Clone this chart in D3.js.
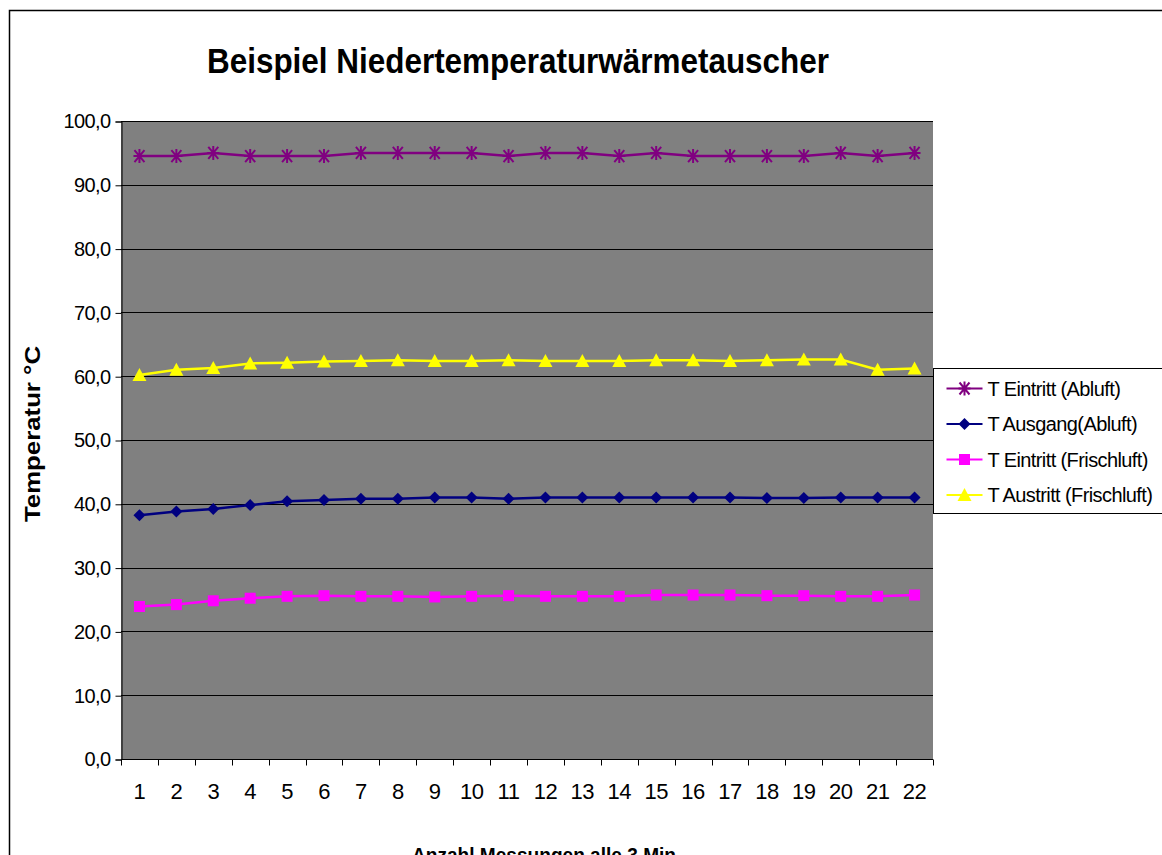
<!DOCTYPE html>
<html>
<head>
	<meta charset="utf-8">
	<title>Beispiel Niedertemperaturwärmetauscher</title>
	<script src="https://d3js.org/d3.v7.min.js"></script>
	<style>
		body { margin: 0; background: #fff; }
		text { font-family: 'Liberation Sans', Arial, sans-serif; }
	</style>
</head>
<body>
	<div class="chart"></div>

	<script type="text/javascript">

		// Messungen 1..22
		var categories = d3.range(1, 23)

		var seriesNames = [
			'T Eintritt (Abluft)',
			'T Ausgang(Abluft)',
			'T Eintritt (Frischluft)',
			'T Austritt (Frischluft)'
		]

		var eintrittAbluft = [94.5, 94.5, 95.0, 94.5, 94.5, 94.5, 95.0, 95.0, 95.0, 95.0, 94.5,
			95.0, 95.0, 94.5, 95.0, 94.5, 94.5, 94.5, 94.5, 95.0, 94.5, 95.0]
		var ausgangAbluft = [38.2, 38.8, 39.2, 39.8, 40.4, 40.6, 40.8, 40.8, 41.0, 41.0, 40.8,
			41.0, 41.0, 41.0, 41.0, 41.0, 41.0, 40.9, 40.9, 41.0, 41.0, 41.0]
		var eintrittFrischluft = [23.9, 24.2, 24.8, 25.2, 25.5, 25.6, 25.5, 25.5, 25.4, 25.5, 25.6,
			25.5, 25.5, 25.5, 25.7, 25.7, 25.7, 25.6, 25.6, 25.5, 25.5, 25.7]
		var austrittFrischluft = [60.2, 61.0, 61.3, 62.0, 62.1, 62.3, 62.4, 62.5, 62.4, 62.4, 62.5,
			62.4, 62.4, 62.4, 62.5, 62.5, 62.4, 62.5, 62.6, 62.6, 61.0, 61.2]

		var yTicks = [0, 10, 20, 30, 40, 50, 60, 70, 80, 90, 100]

		var width = 1162
		var height = 855

		var svg = d3
			.select('.chart')
			.append('svg')
			.attr('width', width)
			.attr('height', height)

		// Rahmen des Diagrammbereichs
		svg.append('path')
			.attr('d', 'M9.5,' + (height + 5) + 'V10.5H' + (width + 5))
			.attr('fill', 'none')
			.attr('stroke', '#000')
			.attr('stroke-width', 1.5)

		var plot = { left: 121, right: 933, top: 121, bottom: 759 }

		var x = d3.scaleBand()
			.domain(categories)
			.range([plot.left, plot.right])

		var y = d3.scaleLinear()
			.domain([0, 100])
			.range([plot.bottom, plot.top])

		// grauer Hintergrund
		svg.append('rect')
			.attr('x', plot.left)
			.attr('y', plot.top)
			.attr('width', plot.right - plot.left)
			.attr('height', plot.bottom - plot.top)
			.attr('fill', '#808080')

		// Gitterlinien
		svg.append('g')
			.selectAll('line')
			.data(yTicks.slice(1))
			.enter()
			.append('line')
			.attr('x1', plot.left)
			.attr('x2', plot.right)
			.attr('y1', (d) => Math.round(y(d)) + 0.5)
			.attr('y2', (d) => Math.round(y(d)) + 0.5)
			.attr('stroke', '#000')
			.attr('stroke-width', 1)

		// Y-Achse
		var fmt = (d) => d3.format('.1f')(d).replace('.', ',')
		var yAxis = svg.append('g')
			.attr('transform', 'translate(' + (plot.left + 0.5) + ',0.5)')
			.call(d3.axisLeft(y).tickValues(yTicks).tickFormat(fmt).tickSize(6).tickPadding(5))
		yAxis.select('.domain').attr('stroke', '#000')
		yAxis.selectAll('text')
			.attr('fill', '#000')
			.attr('font-family', null)
			.attr('font-size', null)
			.style('font-size', '20px')
			.style('letter-spacing', '-0.6px')
		yAxis.attr('font-size', null).attr('font-family', null)

		// X-Achse
		var xAxis = svg.append('g')
			.attr('transform', 'translate(0,' + (plot.bottom + 0.5) + ')')
		xAxis.append('line')
			.attr('x1', plot.left)
			.attr('x2', plot.right)
			.attr('stroke', '#000')
		xAxis.selectAll('line.tick')
			.data(categories.concat([null]))
			.enter()
			.append('line')
			.attr('class', 'tick')
			.attr('x1', (d) => Math.round(d === null ? plot.right : x(d)) + 0.5)
			.attr('x2', (d) => Math.round(d === null ? plot.right : x(d)) + 0.5)
			.attr('y1', 0)
			.attr('y2', 6)
			.attr('stroke', '#000')
		xAxis.selectAll('text')
			.data(categories)
			.enter()
			.append('text')
			.attr('x', (d) => x(d) + x.bandwidth() / 2)
			.attr('y', 39)
			.attr('text-anchor', 'middle')
			.style('font-size', '22px')
			.style('letter-spacing', '-0.5px')
			.text((d) => d)

		// Linien und Marker
		var series = [
			{ name: seriesNames[0], values: eintrittAbluft, color: '#800080', marker: 'star' },
			{ name: seriesNames[1], values: ausgangAbluft, color: '#000080', marker: 'diamond' },
			{ name: seriesNames[2], values: eintrittFrischluft, color: '#ff00ff', marker: 'square' },
			{ name: seriesNames[3], values: austrittFrischluft, color: '#ffff00', marker: 'triangle' }
		]

		var line = d3.line()
			.x((d, i) => x(categories[i]) + x.bandwidth() / 2)
			.y((d) => y(d))

		function drawMarker(g, type, color) {
			if (type === 'star') {
				g.append('path')
					.attr('d', 'M-6,0H6M0,-7V7M-5,-6L5,6M-5,6L5,-6')
					.attr('stroke', color)
					.attr('stroke-width', 2)
					.attr('fill', 'none')
			} else if (type === 'diamond') {
				g.append('path')
					.attr('d', 'M0,-6L6,0L0,6L-6,0Z')
					.attr('fill', color)
			} else if (type === 'square') {
				g.append('rect')
					.attr('x', -5.5)
					.attr('y', -5.5)
					.attr('width', 11)
					.attr('height', 11)
					.attr('fill', color)
			} else {
				g.append('path')
					.attr('d', 'M0,-7L7,6H-7Z')
					.attr('fill', color)
			}
		}

		series.forEach(function (s) {
			svg.append('path')
				.attr('d', line(s.values))
				.attr('fill', 'none')
				.attr('stroke', s.color)
				.attr('stroke-width', 2.5)

			svg.append('g')
				.selectAll('g')
				.data(s.values)
				.enter()
				.append('g')
				.attr('transform', (d, i) => 'translate(' + (x(categories[i]) + x.bandwidth() / 2) + ',' + y(d) + ')')
				.each(function () { drawMarker(d3.select(this), s.marker, s.color) })
		})

		// Titel
		svg.append('text')
			.attr('x', 518)
			.attr('y', 73)
			.attr('text-anchor', 'middle')
			.attr('textLength', 622)
			.attr('lengthAdjust', 'spacingAndGlyphs')
			.style('font-size', '35px')
			.style('font-weight', 'bold')
			.text('Beispiel Niedertemperaturwärmetauscher')

		// Achsentitel
		svg.append('text')
			.attr('transform', 'translate(40,' + 434 + ') rotate(-90)')
			.attr('text-anchor', 'middle')
			.attr('textLength', 176)
			.attr('lengthAdjust', 'spacingAndGlyphs')
			.style('font-size', '22px')
			.style('font-weight', 'bold')
			.text('Temperatur °C')

		svg.append('text')
			.attr('x', 544)
			.attr('y', 862)
			.attr('text-anchor', 'middle')
			.attr('textLength', 264)
			.attr('lengthAdjust', 'spacingAndGlyphs')
			.style('font-size', '20px')
			.style('font-weight', 'bold')
			.text('Anzahl Messungen alle 3 Min')

		// Legende
		var legend = svg.append('g').attr('transform', 'translate(933.5,368.5)')
		legend.append('rect')
			.attr('width', 240)
			.attr('height', 145)
			.attr('fill', '#fff')
			.attr('stroke', '#000')

		var items = legend.selectAll('g.item')
			.data(series)
			.enter()
			.append('g')
			.attr('class', 'item')
			.attr('transform', (d, i) => 'translate(0,' + (20 + i * 35.5) + ')')

		items.append('line')
			.attr('x1', 13)
			.attr('x2', 49)
			.attr('stroke', (d) => d.color)
			.attr('stroke-width', 2)
		items.each(function (d) {
			var g = d3.select(this).append('g').attr('transform', 'translate(31,0)')
			drawMarker(g, d.marker, d.color)
		})
		items.append('text')
			.attr('x', 54)
			.attr('y', 7)
			.style('font-size', '20px')
			.style('letter-spacing', '-0.6px')
			.text((d) => d.name)

	</script>
</body>
</html>
